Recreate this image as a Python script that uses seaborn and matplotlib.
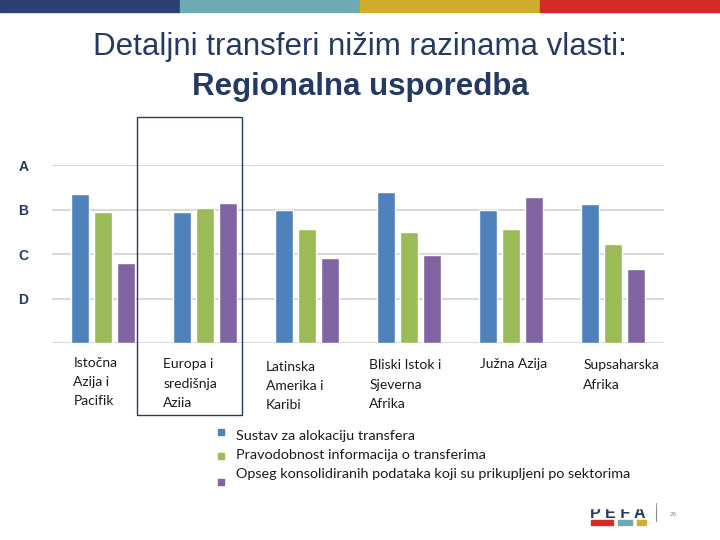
import pandas as pd
import numpy as np
import seaborn as sns
import matplotlib.pyplot as plt
from matplotlib.patches import Rectangle

# data (0 = baseline, D=1, C=2, B=3, A=4)
regions = ['Istočna\nAzija i\nPacifik', 'Europa i\nsredišnja\nAziia', 'Latinska\nAmerika i\nKaribi',
           'Bliski Istok i\nSjeverna\nAfrika', 'Južna Azija', 'Supsaharska\nAfrika']
series = ['Sustav za alokaciju transfera',
          'Pravodobnost informacija o transferima',
          'Opseg konsolidiranih podataka koji su prikupljeni po sektorima']
alokacija = [3.36, 2.95, 3.00, 3.40, 3.00, 3.12]
pravodobnost = [2.95, 3.04, 2.57, 2.50, 2.57, 2.23]
opseg = [1.81, 3.15, 1.92, 1.98, 3.29, 1.67]
grades = ['A', 'B', 'C', 'D']
grade_vals = [4, 3, 2, 1]

colors = ['#4f81bd', '#9bbb59', '#8064a2']
navy = '#243a63'

df = pd.DataFrame({'region': regions * 3,
                   'serija': [series[0]] * 6 + [series[1]] * 6 + [series[2]] * 6,
                   'ocjena': alokacija + pravodobnost + opseg})

sns.set_style('white')
plt.rcParams['font.family'] = ['Liberation Sans', 'DejaVu Sans']

fig = plt.figure(figsize=(7.2, 5.4), dpi=100)
ax = fig.add_axes([0.0722, 0.3643, 0.85, 0.3301])

sns.barplot(data=df, x='region', y='ocjena', hue='serija', palette=colors,
            width=0.67, gap=0.2, ax=ax, legend=False, saturation=1)

ax.set_ylim(0, 4)
ax.set_xlim(-0.5, 5.5)
ax.set_yticks(grade_vals)
ax.set_yticklabels(grades, fontsize=10, fontweight='bold', color=navy)
ax.tick_params(axis='y', length=0, pad=17)
ax.set_xticks([])
ax.set_xlabel('')
ax.set_ylabel('')
for s in ax.spines.values():
    s.set_visible(False)
ax.set_axisbelow(True)
for g in [0] + grade_vals:
    ax.axhline(g, color='#d9d9d9', lw=1.5, zorder=0)

# category labels, left aligned under each group
label_shift = [-0.29, -0.41, -0.40, -0.39, -0.30, -0.29]
label_top = [-0.31, -0.34, -0.39, -0.36, -0.34, -0.36]
for i, r in enumerate(regions):
    ax.text(i + label_shift[i], label_top[i], r, ha='left', va='top', fontsize=10,
            family=['Lato', 'DejaVu Sans'], color='#1a1a1a', linespacing=1.72, clip_on=False)

# highlight box around Europa i središnja Azija
fig.patches.append(Rectangle((137 / 720, 1 - 415 / 540), 105 / 720, 298 / 540,
                             transform=fig.transFigure, fill=False, ec=navy, lw=1))

# legend
leg_text_y = [436, 455, 474]
leg_box_y = [432, 456, 482]
for name, c, ty, by in zip(series, colors, leg_text_y, leg_box_y):
    fig.patches.append(Rectangle((218 / 720, 1 - (by + 3) / 540), 6 / 720, 6 / 540,
                                 transform=fig.transFigure, color=c))
    fig.text(236 / 720, 1 - ty / 540, name, ha='left', va='center', fontsize=10.4,
             family=['Lato', 'DejaVu Sans'], color='#1a1a1a')

# title
fig.text(0.5, 1 - 47 / 540, 'Detaljni transferi nižim razinama vlasti:', ha='center', va='center',
         fontsize=22.5, color=navy)
fig.text(0.5, 1 - 87 / 540, 'Regionalna usporedba', ha='center', va='center',
         fontsize=22.5, fontweight='bold', color=navy)

# top colour strip
strip = ['#2b4170', '#6eaab4', '#cfae2e', '#d52b27']
for k, c in enumerate(strip):
    fig.patches.append(Rectangle((k * 0.25, 1 - 12 / 540), 0.25, 12 / 540,
                                 transform=fig.transFigure, color=c))

# PEFA logo (top of the letters cut off) and page number
fig.text(618 / 720, 1 - 514 / 540, 'P E F A', ha='center', va='center', fontsize=11.5,
         fontweight='bold', color=navy)
fig.patches.append(Rectangle((585 / 720, 1 - 508 / 540), 70 / 720, 12 / 540,
                             transform=fig.transFigure, color='white', zorder=5))
for x0, w, c in [(591, 22, '#d52b27'), (618, 14, '#6eaab4'), (637, 9, '#cfae2e')]:
    fig.patches.append(Rectangle((x0 / 720, 1 - 525 / 540), w / 720, 5 / 540,
                                 transform=fig.transFigure, color=c))
fig.lines.append(plt.Line2D([656 / 720, 656 / 720], [1 - 521 / 540, 1 - 503 / 540],
                            transform=fig.transFigure, color='#888888', lw=0.8))
fig.text(673 / 720, 1 - 515 / 540, '26', ha='center', va='center', fontsize=4.5, color='#888888')

fig.savefig('out.png', dpi=100)
